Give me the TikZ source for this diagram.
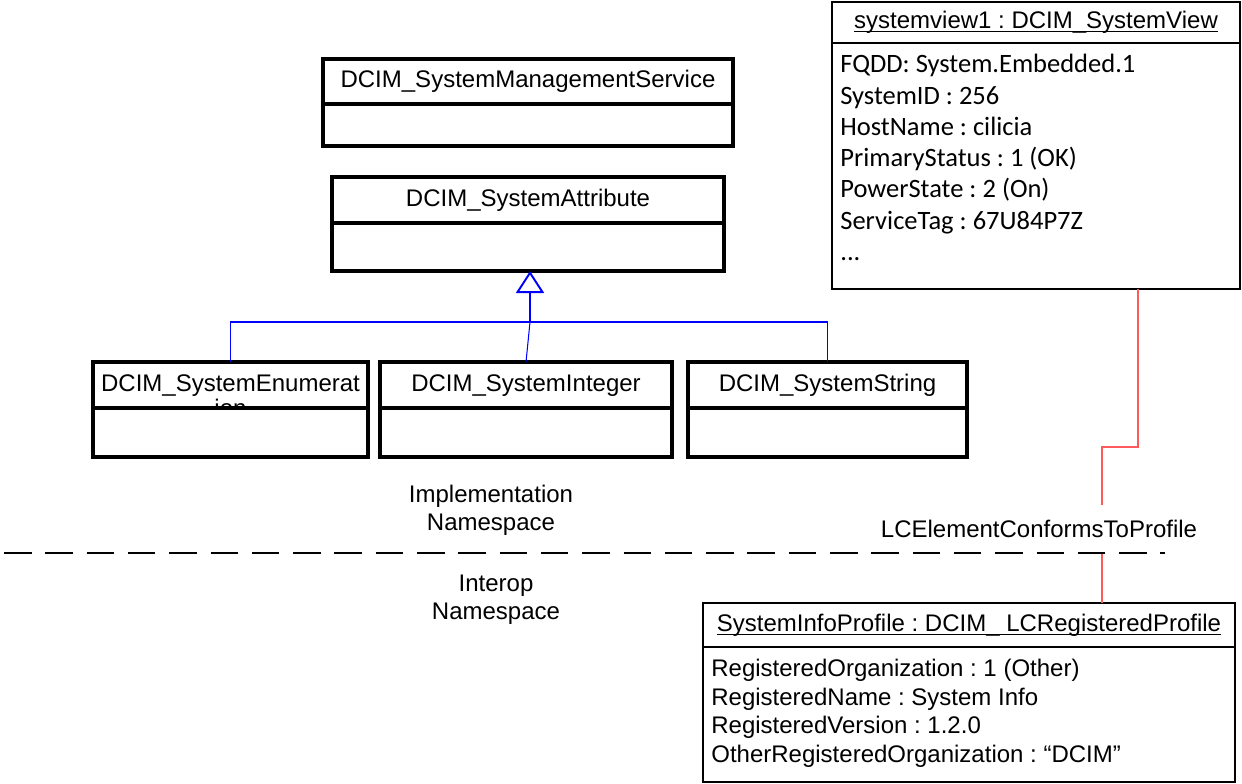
\documentclass[tikz,border=0pt]{standalone}
\usepackage{fontspec}
\setmainfont{Liberation Sans}
\newfontfamily\calib{Carlito}
\usetikzlibrary{positioning,arrows.meta}
\definecolor{genblue}{HTML}{0000FF}
\definecolor{assocred}{HTML}{FF5A5A}
\frenchspacing
\newcommand{\diafont}{\fontsize{13.66pt}{15.65pt}\selectfont}
\newcommand{\attrfont}{\fontsize{13.66pt}{16.2pt}\selectfont}
\newcommand{\calfont}{\calib\fontsize{15.08pt}{17.8pt}\selectfont}
\newsavebox\undlbox
\newcommand{\undl}[1]{\sbox\undlbox{#1}\rlap{\rule[-0.07cm]{\wd\undlbox}{0.022cm}}\usebox\undlbox}

\begin{document}
\begin{tikzpicture}[
  ctitle/.style={rectangle,draw,line width=1.8pt,outer sep=0pt,inner sep=0pt,
    minimum height=0.92cm,text height=9.8pt,text depth=2.7pt,font=\diafont},
  cbody/.style={rectangle,draw,line width=1.8pt,outer sep=0pt,inner sep=0pt},
  ititle/.style={ctitle,line width=1.1pt},
  ibody/.style={cbody,line width=1.1pt},
  attrtxt/.style={inner sep=0pt,anchor=base west,align=left},
  gen/.style={draw=genblue,line width=0.6pt},
  assoc/.style={draw=assocred,line width=0.7pt},
  lbl/.style={font=\diafont,align=center,inner sep=0pt},
  nsline/.style={line width=1.1pt,dash pattern=on 0.55cm off 0.276cm}
]
  \useasboundingbox (0,0) rectangle (24.84,-15.66);

  % classes of the implementation namespace
  \node[ctitle,minimum width=8.2cm,minimum height=0.9cm] (mgmt) at (10.56,-1.63) {DCIM\_SystemManagementService};
  \node[cbody,minimum width=8.2cm,minimum height=0.84cm,below=0pt of mgmt] (mgmtb) {};
  \node[ctitle,minimum width=7.84cm] (attr) at (10.56,-4.0) {DCIM\_SystemAttribute};
  \node[cbody,minimum width=7.84cm,minimum height=0.96cm,below=0pt of attr] (attrb) {};
  \node[ctitle,minimum width=5.5cm] (enum) at (4.61,-7.7) {DCIM\_SystemEnumerat};
  \node[cbody,minimum width=5.5cm,minimum height=0.98cm,below=0pt of enum] (enumb) {};
  \node[ctitle,minimum width=5.84cm] (int) at (10.52,-7.7) {DCIM\_SystemInteger};
  \node[cbody,minimum width=5.84cm,minimum height=0.98cm,below=0pt of int] (intb) {};
  \node[ctitle,minimum width=5.58cm] (str) at (16.55,-7.7) {DCIM\_SystemString};
  \node[cbody,minimum width=5.58cm,minimum height=0.98cm,below=0pt of str] (strb) {};
  \begin{scope}
    \clip (enum.south west) rectangle (enum.north east);
    \node[lbl,anchor=base] (enumrest) at (4.61,-8.32) {ion};
  \end{scope}

  % instances
  \node[ititle,minimum width=8.16cm,minimum height=0.82cm] (sv) at (20.72,-0.45) {\undl{systemview1 : DCIM\_SystemView}};
  \node[ibody,minimum width=8.16cm,minimum height=4.92cm,below=0pt of sv] (svb) {};
  \node[attrtxt,font=\calfont] (svattr) at (16.8,-5.21) {FQDD: System.Embedded.1\\SystemID : 256\\HostName : cilicia\\PrimaryStatus : 1 (OK)\\PowerState : 2 (On)\\ServiceTag : 67U84P7Z\\...};
  \node[ititle,minimum width=10.64cm,minimum height=0.88cm] (prof) at (19.38,-12.5) {\undl{SystemInfoProfile : DCIM\_ LCRegisteredProfile}};
  \node[ibody,minimum width=10.64cm,minimum height=2.7cm,below=0pt of prof] (profb) {};
  \node[attrtxt,font=\attrfont] (profattr) at (14.22,-15.244) {RegisteredOrganization : 1 (Other)\\RegisteredName : System Info\\RegisteredVersion : 1.2.0\\OtherRegisteredOrganization : “DCIM”};

  % generalization
  \coordinate (jn) at (10.6,-6.44);
  \draw[gen,line width=1.1pt,-{Triangle[open,length=0.44cm,width=0.56cm]}] (jn) -- (jn |- attrb.south);
  \draw[gen] (enum.north) |- (jn);
  \draw[gen] (int.north) -- (jn);
  \draw[gen] (str.north) |- (jn);

  % conformance association
  \coordinate (bend) at (22.04,-8.94);
  \draw[assoc] ([xshift=-2.04cm]svb.south east) |- (bend) -- (bend |- prof.north);
  \node[lbl,fill=white,minimum height=0.96cm,inner xsep=2pt] (conf) at (20.78,-10.58) {LCElementConformsToProfile};

  % namespaces
  \node[lbl,anchor=base] (impl) at (9.82,-10.6) {Implementation\\Namespace};
  \node[lbl,anchor=base] (interop) at (9.92,-12.38) {Interop\\Namespace};
  \draw[nsline] (0.08,-11.06) -- (23.3,-11.06);
\end{tikzpicture}
\end{document}
